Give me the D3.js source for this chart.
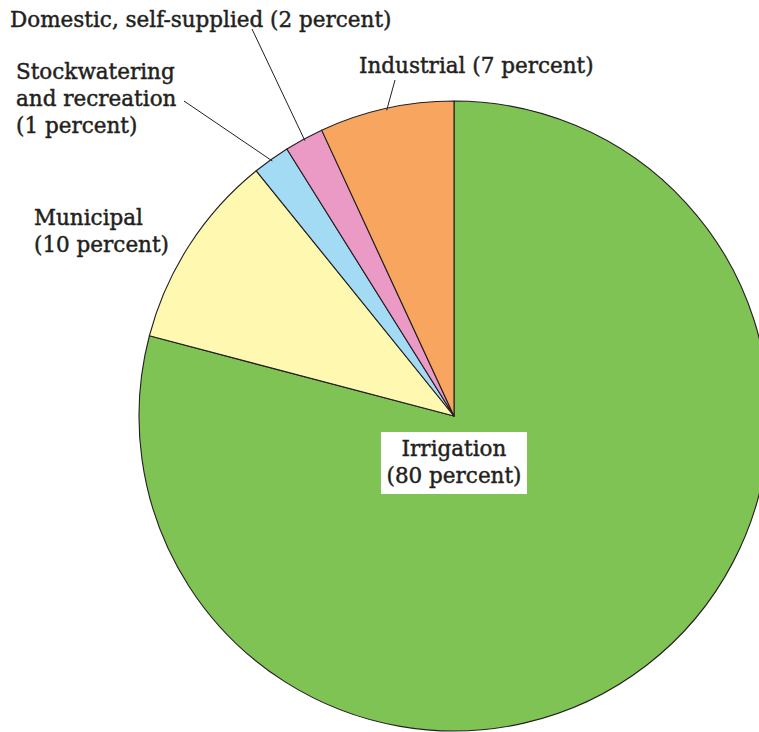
<!DOCTYPE html>
<html>
<head>
<meta charset="utf-8">
<script src="https://cdn.jsdelivr.net/npm/d3@7"></script>
<style>
  body { margin: 0; background: #fff; }
  text { font-family: "DejaVu Serif", serif; fill: #231f20; stroke: #231f20; stroke-width: 0.45px; }
</style>
</head>
<body>
<div id="chart"></div>
<script>
// categories in clockwise order from 12 o'clock
const categories = ["Irrigation", "Municipal", "Stockwatering and recreation", "Domestic, self-supplied", "Industrial"];
// slice sizes
const shares = [79.1, 10.1, 1.9, 2.0, 6.9];
// percent shown in labels
const labelPercents = [80, 10, 1, 2, 7];
const colors = ["#7fc355", "#fff8b0", "#a3dbf5", "#eb9ac6", "#f8a65f"];

const width = 759, height = 732;
const cx = 454, cy = 416, radius = 315;

let svg = d3.select("#chart")
    .append("svg")
    .attr("width", width)
    .attr("height", height);

let data = categories.map((c, i) => ({name: c, value: shares[i], pct: labelPercents[i], color: colors[i]}));

let pie = d3.pie().sort(null).value(d => d.value);
let arcs = pie(data);
let arc = d3.arc().innerRadius(0).outerRadius(radius);

let g = svg.append("g").attr("transform", `translate(${cx},${cy})`);

g.selectAll("path")
    .data(arcs)
    .enter()
    .append("path")
    .attr("d", arc)
    .attr("fill", d => d.data.color)
    .attr("stroke", "#231f20")
    .attr("stroke-width", 1.1)
    .attr("stroke-linejoin", "round");

// point on the rim at slice middle
function rim(d, r) {
    let a = (d.startAngle + d.endAngle) / 2;
    return [r * Math.sin(a), -r * Math.cos(a)];
}

const fs = 21.5;

// label layout: lines, x, first baseline, anchor, leader start
let labelLayout = [
    {lines: ["Irrigation", `(${labelPercents[0]} percent)`], x: 0, y: 456 - cy, anchor: "middle", box: true},
    {lines: ["Municipal", `(${labelPercents[1]} percent)`], x: 34 - cx, y: 225 - cy, anchor: "start"},
    {lines: ["Stockwatering", "and recreation", `(${labelPercents[2]} percent)`], x: 16 - cx, y: 79 - cy, anchor: "start", lead: [184 - cx, 101 - cy]},
    {lines: [`Domestic, self-supplied (${labelPercents[3]} percent)`], x: 10 - cx, y: 27 - cy, anchor: "start", lead: [252 - cx, 29 - cy]},
    {lines: [`Industrial (${labelPercents[4]} percent)`], x: 359 - cx, y: 73 - cy, anchor: "start", lead: [395 - cx, 80 - cy]}
];

// leader lines
arcs.forEach((d, i) => {
    let l = labelLayout[i];
    if (!l.lead) return;
    let p = rim(d, radius - 2);
    g.append("line")
        .attr("x1", l.lead[0]).attr("y1", l.lead[1])
        .attr("x2", p[0]).attr("y2", p[1])
        .attr("stroke", "#231f20")
        .attr("stroke-width", 1);
});

labelLayout.forEach(l => {
    let t = g.append("text")
        .attr("text-anchor", l.anchor)
        .style("font-size", fs + "px");
    l.lines.forEach((s, j) => {
        t.append("tspan")
            .attr("x", l.x)
            .attr("y", l.y + j * 27)
            .text(s);
    });
    if (l.box) {
        g.insert("rect", "text")
            .attr("x", -73).attr("y", 432 - cy)
            .attr("width", 146).attr("height", 62)
            .attr("fill", "#fff");
    }
});
</script>
</body>
</html>
